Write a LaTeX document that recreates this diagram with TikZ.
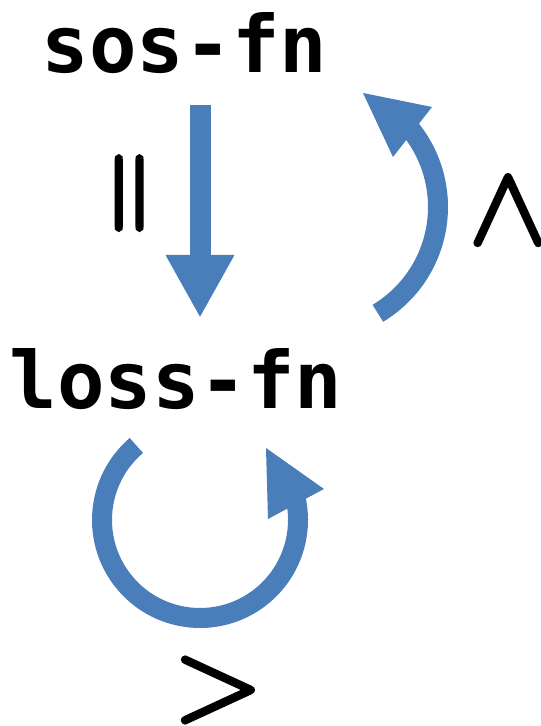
\documentclass[tikz,border=0pt]{standalone}
\usepackage{fontspec}
\newfontfamily\codefont{DejaVu Sans Mono}
\newfontfamily\relfont{Latin Modern Roman}[FakeBold=3.5]
\usetikzlibrary{arrows.meta}
\definecolor{flowblue}{RGB}{74,126,187}
\tikzset{
  codelabel/.style={inner sep=0pt, anchor=base, font=\codefont\bfseries\fontsize{79}{86}\selectfont},
  relation/.style={inner sep=0pt, font=\relfont\fontsize{117}{120}\selectfont},
  flow/.style={draw=flowblue, line width=20pt},
  flowhead/.style={fill=flowblue, draw=none}
}
\begin{document}
\begin{tikzpicture}[x=1pt, y=1pt]
  \useasboundingbox (0,0) rectangle (541,726);

  % the two functions
  \node[codelabel] (sos)  at (184.5,653) {sos-fn};
  \node[codelabel] (loss) at (176,317) {loss-fn};

  % sos-fn is equal to loss-fn
  \coordinate (eqstart) at (200,621);
  \coordinate (eqend)   at (200,408);
  \draw[flow, line width=21pt, -{Triangle[length=63pt, width=64pt]}] (eqstart) -- (eqend);
  \node[relation, rotate=90] (eqlabel) at (137.5,533) {=};

  % loss-fn back to sos-fn
  \coordinate (gtcenter) at (314,519);
  \draw[flow] ([shift={(-59:124)}]gtcenter) arc[start angle=-59, end angle=42, radius=124];
  \fill[flowhead] (363,633) -- (393,569) -- (432,619) -- cycle;
  \node[relation, rotate=90] (gtlabel) at (508,516) {>};

  % loss-fn onto itself
  \coordinate (loopcenter) at (200,206);
  \draw[flow] ([shift={(130.5:98)}]loopcenter) arc[start angle=130.5, end angle=380, radius=98];
  \fill[flowhead] (266,278) -- (268,207) -- (324,237) -- cycle;
  \node[relation] (looplabel) at (218,36) {>};
\end{tikzpicture}
\end{document}
